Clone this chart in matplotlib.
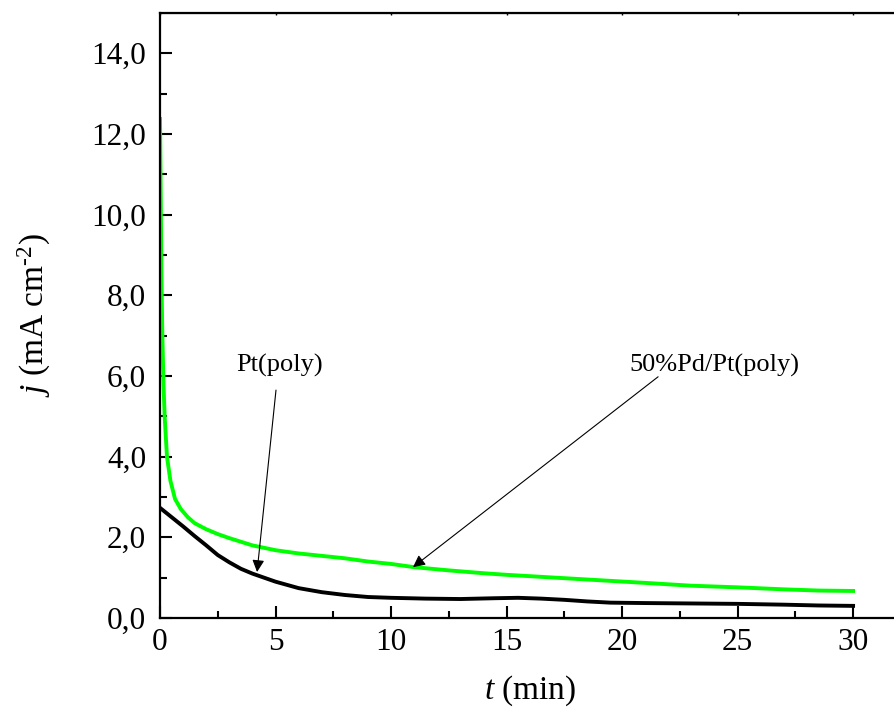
import matplotlib
matplotlib.use("Agg")
import matplotlib.pyplot as plt

# Pt(poly) chronoamperometry
pt_t = [0, 0.5, 1.0, 1.5, 2.0, 2.5, 3.0, 3.5, 4.0, 5.0, 6.0, 7.0, 8.0, 9.0, 10.0,
        11.5, 13.0, 14.5, 15.5, 16.5, 17.5, 18.5, 19.5, 21.0, 23.0, 25.0, 27.0, 28.5, 30.0]
pt_j = [2.73, 2.5, 2.27, 2.03, 1.80, 1.56, 1.38, 1.22, 1.10, 0.90, 0.74, 0.64, 0.57, 0.52, 0.50,
        0.48, 0.47, 0.49, 0.50, 0.48, 0.45, 0.41, 0.38, 0.37, 0.36, 0.35, 0.33, 0.31, 0.30]

# 50%Pd/Pt(poly)
pd_t = [0, 0.03, 0.06, 0.1, 0.15, 0.2, 0.3, 0.45, 0.65, 0.9, 1.2, 1.5, 2.0, 2.5, 3.0, 4.0,
        5.0, 6.0, 7.0, 8.0, 9.0, 10.0, 11.0, 12.5, 14.0, 15.0, 16.5, 18.0, 19.5, 21.0,
        23.0, 25.0, 27.0, 28.5, 30.0]
pd_j = [12.37, 10.5, 8.5, 7.0, 5.8, 5.0, 4.0, 3.4, 2.95, 2.7, 2.5, 2.35, 2.2, 2.08, 1.98, 1.80,
        1.68, 1.60, 1.54, 1.48, 1.40, 1.34, 1.26, 1.18, 1.11, 1.07, 1.02, 0.97, 0.92, 0.87,
        0.80, 0.76, 0.71, 0.68, 0.67]

x_ticks = [0, 5, 10, 15, 20, 25, 30]
y_ticks = [0, 2, 4, 6, 8, 10, 12, 14]
y_labels = ["0,0", "2,0", "4,0", "6,0", "8,0", "10,0", "12,0", "14,0"]

plt.rcParams["font.family"] = ["Liberation Serif", "DejaVu Serif"]
plt.rcParams["mathtext.fontset"] = "custom"
plt.rcParams["mathtext.rm"] = "Liberation Serif"
plt.rcParams["mathtext.it"] = "Liberation Serif:italic"

fig = plt.figure(figsize=(8.95, 7.16), dpi=100)
ax = fig.add_axes([0.1788, 0.1369, 0.826, 0.845])

ax.plot(pt_t, pt_j, color="black", lw=2.8)
ax.plot(pd_t, pd_j, color="#00ff00", lw=2.8)

ax.set_xlim(0, 32)
ax.set_ylim(0, 15)
ax.set_xticks(x_ticks)
ax.set_xticks([2.5 + 5 * i for i in range(6)], minor=True)
ax.set_yticks(y_ticks)
ax.set_yticklabels(y_labels)
ax.set_yticks([1 + 2 * i for i in range(7)], minor=True)

ax.tick_params(which="both", direction="in", labelsize=22.5, width=1.5)
ax.tick_params(which="major", length=8.5)
ax.tick_params(which="minor", length=5)
ax.tick_params(axis="y", which="major", pad=10)
ax.tick_params(axis="x", which="major", pad=7)
# the top edge only carries tiny marks
ax.secondary_xaxis("top").tick_params(which="both", direction="in", length=1.5,
                                       labeltop=False, width=1)
for s in ["left", "bottom", "top"]:
    ax.spines[s].set_linewidth(1.6)
ax.spines["right"].set_visible(False)

ax.set_xlabel("$t$ (min)", fontsize=24, labelpad=12)
ax.set_ylabel("$j$ (mA cm$^{\\text{-2}}$)", fontsize=24)
ax.yaxis.set_label_coords(-0.145, 0.5)

arrow = dict(arrowstyle="-|>", color="black", lw=0.8, mutation_scale=18, shrinkA=0, shrinkB=0)
ax.text(5.19, 6.27, "Pt(poly)", fontsize=19, ha="center", va="center")
ax.annotate("", xy=(4.2, 1.14), xytext=(5.02, 5.65), arrowprops=arrow)
ax.text(24.0, 6.27, "50%Pd/Pt(poly)", fontsize=19, ha="center", va="center")
ax.annotate("", xy=(10.95, 1.26), xytext=(21.56, 5.98), arrowprops=arrow)

fig.savefig("out.png", dpi=100)
